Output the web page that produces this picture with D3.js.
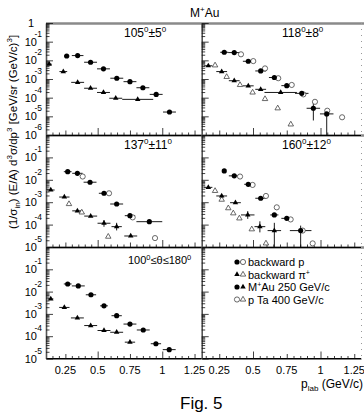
<!DOCTYPE html>
<html><head><meta charset="utf-8">
<script src="https://cdn.jsdelivr.net/npm/d3@7"></script>
<style>body{margin:0;background:#fff}svg{display:block;font-family:"Liberation Sans",Arial,Helvetica,sans-serif}</style>
</head><body><svg id="c" width="364" height="415"></svg>
<script>
// ---------------- DATA (p [GeV/c], invariant cross section, half-width of p bin) ----------------
// 105°±5°
const a105_protonMAu = [[0.26,1.7e-2,0.02],[0.345,1.8e-2,0.045],[0.445,7.9e-3,0.05],[0.545,3.5e-3,0.05],[0.648,1.1e-3,0.05],[0.75,7.2e-4,0.05],[0.85,3.4e-4,0.05],[0.953,1.5e-4,0.05],[1.056,1.7e-5,0.05]];
const a105_pionMAu   = [[0.125,6.2e-3,0.02],[0.234,2.5e-3,0.03],[0.345,6.6e-4,0.05],[0.445,3.2e-4,0.05],[0.545,1.9e-4,0.05],[0.64,9.3e-5,0.05],[0.81,8.1e-5,0.12]];
const a105_protonPTa = [];
const a105_pionPTa   = [];
// 118°±8°
const a118_protonMAu = [[0.287,2.7e-2,0.03],[0.361,2.6e-2,0.045],[0.465,8.9e-3,0.04],[0.557,2.7e-3,0.04],[0.658,1.2e-3,0.04],[0.75,4.4e-4,0.04],[0.861,1.7e-4,0.05],[0.947,2.7e-5,0.05],[1.046,1.35e-5,0.05]];
const a118_pionMAu   = [[0.169,5.1e-3,0.03],[0.268,2.5e-3,0.04],[0.361,8.1e-4,0.04],[0.465,4.3e-4,0.04],[0.557,2.8e-4,0.04],[0.705,1.9e-4,0.12]];
const a118_protonPTa = [[0.411,2.1e-2],[0.502,9.1e-3],[0.589,3.7e-3],[0.687,1.1e-3],[0.787,4.8e-4],[0.873,1.5e-4],[0.959,6.0e-5],[1.05,2.0e-5],[1.16,8.9e-6]];
const a118_pionPTa   = [[0.219,5.4e-3],[0.305,1.3e-3],[0.404,4.8e-4],[0.497,1.9e-4],[0.589,8.5e-5],[0.683,2.7e-5],[0.78,3.7e-6]];
// 137°±11°
const a137_protonMAu = [[0.268,2.3e-2,0.03],[0.343,1.95e-2,0.04],[0.441,7.8e-3,0.05],[0.549,2.5e-3,0.04],[0.647,8.3e-4,0.05],[0.75,2.5e-4,0.04],[0.9,1.35e-4,0.1]];
const a137_pionMAu   = [[0.137,3.5e-3,0.03],[0.242,1.7e-3,0.04],[0.343,4.1e-4,0.04],[0.446,2.4e-4,0.05],[0.549,1.15e-4,0.05],[0.647,8.1e-5,0.04],[0.756,3.1e-5,0.05]];
const a137_protonPTa = [[0.384,1.4e-2],[0.588,2.5e-3],[0.771,2.1e-4],[0.944,2.5e-5]];
const a137_pionPTa   = [[0.278,8.3e-4],[0.377,3.5e-4],[0.582,2.9e-5]];
// 160°±12°
const a160_protonMAu = [[0.287,2.5e-2,0.0],[0.361,1.5e-2,0.04],[0.465,6.3e-3,0.03],[0.557,1.5e-3,0.04],[0.658,2.7e-4,0.03],[0.75,1.9e-4,0.04],[0.853,5.4e-5,0.08]];
const a160_pionMAu   = [[0.169,4.6e-3,0.03],[0.268,1.9e-3,0.04],[0.37,9.5e-4,0.04],[0.461,2.7e-4,0.05],[0.551,8.1e-5,0.04],[0.658,5.4e-5,0.05]];
const a160_protonPTa = [[0.404,1.4e-2],[0.497,5.9e-3],[0.596,1.9e-3],[0.676,5.9e-4],[0.779,1.7e-4],[0.868,5.4e-5],[0.942,1.45e-5]];
const a160_pionPTa   = [[0.219,3.2e-3],[0.268,1.3e-3],[0.317,5.4e-4],[0.354,3.2e-4],[0.399,1.9e-4],[0.491,6.2e-5],[0.596,1.45e-5]];
// 100°≤θ≤180°
const aAll_protonMAu = [[0.268,2.2e-2,0.03],[0.35,1.8e-2,0.05],[0.448,7.2e-3,0.04],[0.549,2.3e-3,0.03],[0.647,8.3e-4,0.04],[0.75,3.5e-4,0.05],[0.853,1.9e-4,0.05],[0.951,4.6e-5,0.04],[1.054,2.5e-5,0.05]];
const aAll_pionMAu   = [[0.137,4.7e-3,0.02],[0.242,1.95e-3,0.04],[0.343,6.6e-4,0.05],[0.446,3.0e-4,0.05],[0.549,1.8e-4,0.05],[0.647,1.5e-4,0.05],[0.75,5.4e-5,0.04]];
// vertical error bars [p, low, high]
const yErrBars118 = [[0.947,6e-6,6.5e-5],[1.046,1.0e-6,2.2e-5]];
const yErrBars160 = [[0.658,1.0e-5,1.2e-4],[0.551,4.5e-5,1.4e-4],[0.461,1.8e-4,4.0e-4],[0.853,1.0e-5,9.0e-5]];
const yErrBars137 = [[0.549,8e-5,1.6e-4],[0.647,5.5e-5,1.2e-4]];

const angleLabels = [["105","0","±5","0"],["118","0","±8","0"],["137","0","±11","0"],["160","0","±12","0"]];
const xTickValues = [0.25,0.5,0.75,1,1.25];
const xTickLabels = ["0.25","0.5","0.75","1","1.25"];
const legendLabels = ["backward p","backward π","M","p Ta 400 GeV/c"];

// ---------------- LAYOUT ----------------
const svg = d3.select("#c");
const cols = [{x0:46,x1:201,dom:[0.1,1.3]},{x0:201.7,x1:361,dom:[0.12,1.3]}];
const rows = [{y0:23,y1:135,dom:[1e-6,1]},{y0:135,y1:247,dom:[1e-5,1]},{y0:247,y1:358.5,dom:[1e-5,1]}];

const panels = [
  {c:0,r:0,lab:angleLabels[0],pm:a105_protonMAu,km:a105_pionMAu,pt:a105_protonPTa,kt:a105_pionPTa,ye:[]},
  {c:1,r:0,lab:angleLabels[1],pm:a118_protonMAu,km:a118_pionMAu,pt:a118_protonPTa,kt:a118_pionPTa,ye:yErrBars118},
  {c:0,r:1,lab:angleLabels[2],pm:a137_protonMAu,km:a137_pionMAu,pt:a137_protonPTa,kt:a137_pionPTa,ye:yErrBars137},
  {c:1,r:1,lab:angleLabels[3],pm:a160_protonMAu,km:a160_pionMAu,pt:a160_protonPTa,kt:a160_pionPTa,ye:yErrBars160},
  {c:0,r:2,lab:null,pm:aAll_protonMAu,km:aAll_pionMAu,pt:[],kt:[],ye:[]},
  {c:1,r:2,lab:null,pm:[],km:[],pt:[],kt:[],ye:[],legend:true}
];

const circ = d3.symbol().type(d3.symbolCircle).size(21);
const tri = d3.symbol().type(d3.symbolTriangle).size(13);

// gray frame lines
rows.forEach(r=>{
  svg.append("line").attr("x1",46).attr("x2",364).attr("y1",r.y0+0.5).attr("y2",r.y0+0.5)
    .attr("stroke","#8a8a8a").attr("stroke-width",2.5);
});
svg.append("line").attr("x1",46).attr("x2",361).attr("y1",358.5).attr("y2",358.5).attr("stroke","#000").attr("stroke-width",1);

panels.forEach(P=>{
  const C = cols[P.c], R = rows[P.r];
  const x = d3.scaleLinear().domain(C.dom).range([C.x0,C.x1]);
  const y = d3.scaleLog().domain(R.dom).range([R.y1,R.y0]);
  const g = svg.append("g");
  const lo = Math.round(Math.log10(R.dom[0])), hi = Math.round(Math.log10(R.dom[1]));
  const majors = d3.range(lo,hi+1).map(e=>Math.pow(10,e));
  const minors = [];
  d3.range(lo,hi).forEach(e=>{for(let k=2;k<10;k++) minors.push(k*Math.pow(10,e));});
  // left axis
  g.append("g").attr("transform",`translate(${C.x0},0)`)
    .call(d3.axisRight(y).tickValues(majors).tickSize(7).tickSizeOuter(0).tickFormat(""))
    .call(s=>s.select(".domain").attr("stroke","#555").attr("stroke-width",1.6));
  g.append("g").attr("transform",`translate(${C.x0},0)`)
    .call(d3.axisRight(y).tickValues(minors).tickSize(3.5).tickSizeOuter(0).tickFormat(""))
    .call(s=>s.select(".domain").remove());
  // bottom axis (ticks inward)
  const xMin = d3.range(0.15,1.3,0.05).filter(v=>Math.abs(v*4-Math.round(v*4))>1e-6);
  g.append("g").attr("transform",`translate(0,${R.y1})`)
    .call(d3.axisTop(x).tickValues([0.5,1]).tickSize(7).tickSizeOuter(0).tickFormat(""))
    .call(s=>s.select(".domain").attr("stroke","#000"));
  g.append("g").attr("transform",`translate(0,${R.y1})`)
    .call(d3.axisTop(x).tickValues([0.25,0.75,1.25]).tickSize(4.5).tickSizeOuter(0).tickFormat(""))
    .call(s=>s.select(".domain").remove());
  g.append("g").attr("transform",`translate(0,${R.y1})`)
    .call(d3.axisTop(x).tickValues(xMin).tickSize(2.5).tickSizeOuter(0).tickFormat(""))
    .call(s=>s.select(".domain").remove());
  g.selectAll(".tick line").attr("stroke","#111").attr("stroke-width",0.8);
  if(P.c===1){
    g.append("line").attr("x1",361.5).attr("x2",361.5).attr("y1",R.y0).attr("y2",R.y1)
      .attr("stroke","#999").attr("stroke-dasharray","1,5");
  }
  // y tick labels on left column
  if(P.c===0){
    const lab = g.append("g").attr("font-size",11);
    majors.forEach(v=>{
      const e = Math.round(Math.log10(v));
      if(e===0 && P.r>0) return;
      const yy = y(v);
      if(e===0){
        lab.append("text").attr("x",34).attr("y",yy+4).attr("text-anchor","end").text("1");
      } else {
        lab.append("text").attr("x",37).attr("y",yy+4).attr("text-anchor","end").text("10");
        lab.append("text").attr("x",34.5).attr("y",yy-5).attr("font-size",8.5).text(String(e));
      }
    });
  }
  // x tick labels on bottom row
  if(P.r===2){
    g.selectAll(".xl").data(xTickValues).enter().append("text")
      .attr("x",d=>x(d)).attr("y",R.y1+15).attr("text-anchor","middle").attr("font-size",11)
      .text((d,i)=>xTickLabels[i]);
  }
  // panel label
  if(P.lab){
    const t = g.append("text").attr("x",P.c===0?124:282).attr("y",R.y0+14).attr("font-size",12);
    t.append("tspan").text(P.lab[0]);
    t.append("tspan").attr("dy",-5).attr("font-size",8).text(P.lab[1]);
    t.append("tspan").attr("dy",5).text(P.lab[2]);
    t.append("tspan").attr("dy",-5).attr("font-size",8).text(P.lab[3]);
  }
  // vertical error bars
  g.selectAll(".ye").data(P.ye).enter().append("line")
    .attr("x1",d=>x(d[0])).attr("x2",d=>x(d[0]))
    .attr("y1",d=>Math.min(R.y1,y(d[1]))).attr("y2",d=>y(d[2]))
    .attr("stroke","#000").attr("stroke-width",0.9);
  // horizontal error bars
  [P.pm,P.km].forEach(s=>{
    g.selectAll(null).data(s.filter(d=>d[2]>0)).enter().append("line")
      .attr("x1",d=>x(d[0]-d[2])).attr("x2",d=>x(d[0]+d[2]))
      .attr("y1",d=>y(d[1])).attr("y2",d=>y(d[1]))
      .attr("stroke","#000").attr("stroke-width",0.9);
  });
  // markers
  g.selectAll(null).data(P.pt).enter().append("path").attr("d",circ)
    .attr("transform",d=>`translate(${x(d[0])},${y(d[1])})`)
    .attr("fill","#fff").attr("stroke","#444").attr("stroke-width",0.8);
  g.selectAll(null).data(P.kt).enter().append("path").attr("d",tri)
    .attr("transform",d=>`translate(${x(d[0])},${y(d[1])})`)
    .attr("fill","#fff").attr("stroke","#444").attr("stroke-width",0.8);
  g.selectAll(null).data(P.pm).enter().append("path").attr("d",circ)
    .attr("transform",d=>`translate(${x(d[0])},${y(d[1])})`).attr("fill","#000");
  g.selectAll(null).data(P.km).enter().append("path").attr("d",tri)
    .attr("transform",d=>`translate(${x(d[0])},${y(d[1])})`).attr("fill","#000");
  // bottom-panel label
  if(P.r===2 && P.c===0){
    const t = g.append("text").attr("x",128).attr("y",R.y0+17).attr("font-size",11);
    t.append("tspan").text("100");
    t.append("tspan").attr("dy",-4).attr("font-size",7.5).text("0");
    t.append("tspan").attr("dy",4).text("≤θ≤180");
    t.append("tspan").attr("dy",-4).attr("font-size",7.5).text("0");
  }
  if(P.legend){
    const L = g.append("g").attr("font-size",11);
    const ly = [262,274.5,287,299.5];
    const mk = (type,fill,cx,cy)=>L.append("path").attr("d",type==="c"?circ:tri)
      .attr("transform",`translate(${cx},${cy})`).attr("fill",fill?"#000":"#fff")
      .attr("stroke",fill?"none":"#444").attr("stroke-width",0.8);
    mk("c",true,237,ly[0]); mk("c",false,243,ly[0]);
    mk("t",true,237,ly[1]); mk("t",false,243,ly[1]);
    mk("c",true,237,ly[2]); mk("t",true,243,ly[2]);
    mk("c",false,237,ly[3]); mk("t",false,243,ly[3]);
    L.append("text").attr("x",248).attr("y",ly[0]+4).text(legendLabels[0]);
    const t1 = L.append("text").attr("x",248).attr("y",ly[1]+4);
    t1.append("tspan").text(legendLabels[1]);
    t1.append("tspan").attr("dy",-4).attr("font-size",7).text("+");
    const t2 = L.append("text").attr("x",248).attr("y",ly[2]+4);
    t2.append("tspan").text(legendLabels[2]);
    t2.append("tspan").attr("dy",-4).attr("font-size",7).text("+");
    t2.append("tspan").attr("dy",4).text("Au 250 GeV/c");
    L.append("text").attr("x",248).attr("y",ly[3]+4).text(legendLabels[3]);
  }
});

// title
const tt = svg.append("text").attr("x",190).attr("y",17).attr("font-size",12);
tt.append("tspan").text("M");
tt.append("tspan").attr("dy",-5).attr("font-size",8).text("+");
tt.append("tspan").attr("dy",5).text("Au");

// y title
const yt = svg.append("text").attr("transform","translate(17,132) rotate(-90)").attr("text-anchor","middle").attr("font-size",11.5);
yt.append("tspan").text("(1/σ");
yt.append("tspan").attr("dy",3).attr("font-size",8).text("in");
yt.append("tspan").attr("dy",-3).text(") (E/A) d");
yt.append("tspan").attr("dy",-5).attr("font-size",8).text("3");
yt.append("tspan").attr("dy",5).text("σ/dp");
yt.append("tspan").attr("dy",-5).attr("font-size",8).text("3");
yt.append("tspan").attr("dy",5).text(" [GeV/sr (GeV/c)");
yt.append("tspan").attr("dy",-5).attr("font-size",8).text("3");
yt.append("tspan").attr("dy",5).text("]");

// x title
const xt = svg.append("text").attr("x",301).attr("y",388).attr("font-size",12);
xt.append("tspan").text("p");
xt.append("tspan").attr("dy",3).attr("font-size",8).text("lab");
xt.append("tspan").attr("dy",-3).text(" (GeV/c)");

svg.append("text").attr("x",180).attr("y",409).attr("font-size",17).text("Fig. 5");
</script></body></html>
